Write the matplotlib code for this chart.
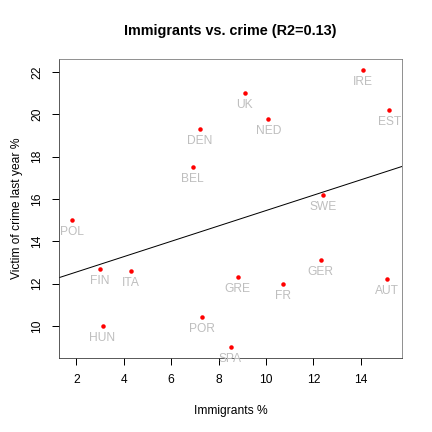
# Immigrants vs. crime scatter with linear fit

import numpy as np
import matplotlib
matplotlib.use('Agg')
import matplotlib.pyplot as plt

countries = ['POL', 'DEN', 'BEL', 'UK', 'IRE', 'NED', 'EST', 'SWE', 'FIN',
             'ITA', 'GRE', 'HUN', 'POR', 'SPA', 'FR', 'GER', 'AUT']
immigrants = [1.8, 7.2, 6.9, 9.1, 14.1, 10.1, 15.2, 12.4, 3.0,
              4.3, 8.8, 3.1, 7.3, 8.5, 10.7, 12.3, 15.1]
crime = [15.0, 19.3, 17.5, 21.0, 22.1, 19.8, 20.2, 16.2, 12.7,
         12.6, 12.3, 10.0, 10.4, 9.0, 12.0, 13.1, 12.2]

x_ticks = [2, 4, 6, 8, 10, 12, 14]
y_ticks = [10, 12, 14, 16, 18, 20, 22]

plt.rcParams['font.family'] = ['Liberation Sans', 'DejaVu Sans']

x = np.array(immigrants)
y = np.array(crime)
slope, intercept = np.polyfit(x, y, 1)

fig = plt.figure(figsize=(6, 6), dpi=72)
ax = fig.add_axes([59/432, 1 - 358/432, (402 - 59)/432, (358 - 59)/432])

ax.plot(x, y, 'o', color='red', markersize=4.5, markeredgewidth=0, zorder=3)
for name, xi, yi in zip(countries, x, y):
    ax.annotate(name, (xi, yi), xytext=(0, -12), textcoords='offset points',
                ha='center', va='center', color='#bebebe', fontsize=12)

# regression line over the whole plot region (like abline)
ax.axline((0, intercept), slope=slope, color='black', linewidth=1)

# R style ranges: data range padded by 4%
xr = x.max() - x.min()
yr = y.max() - y.min()
ax.set_xlim(x.min() - 0.04*xr, x.max() + 0.04*xr)
ax.set_ylim(y.min() - 0.04*yr, y.max() + 0.04*yr)

ax.set_xticks(x_ticks)
ax.set_yticks(y_ticks)
ax.set_yticklabels([str(t) for t in y_ticks], rotation=90, va='center')
ax.tick_params(direction='out', length=7, width=1, labelsize=12, pad=9)
for s in ['top', 'right']:
    ax.spines[s].set_color('#777777')
for s in ['left', 'bottom']:
    ax.spines[s].set_color('#333333')

ax.set_xlabel('Immigrants %', fontsize=12, labelpad=19)
ax.set_ylabel('Victim of crime last year %', fontsize=12, labelpad=8)
fig.text(230/432, 1 - 31/432, 'Immigrants vs. crime (R2=0.13)',
         ha='center', va='center', fontsize=14.4, fontweight='bold')

fig.savefig('out.png', dpi=72)
